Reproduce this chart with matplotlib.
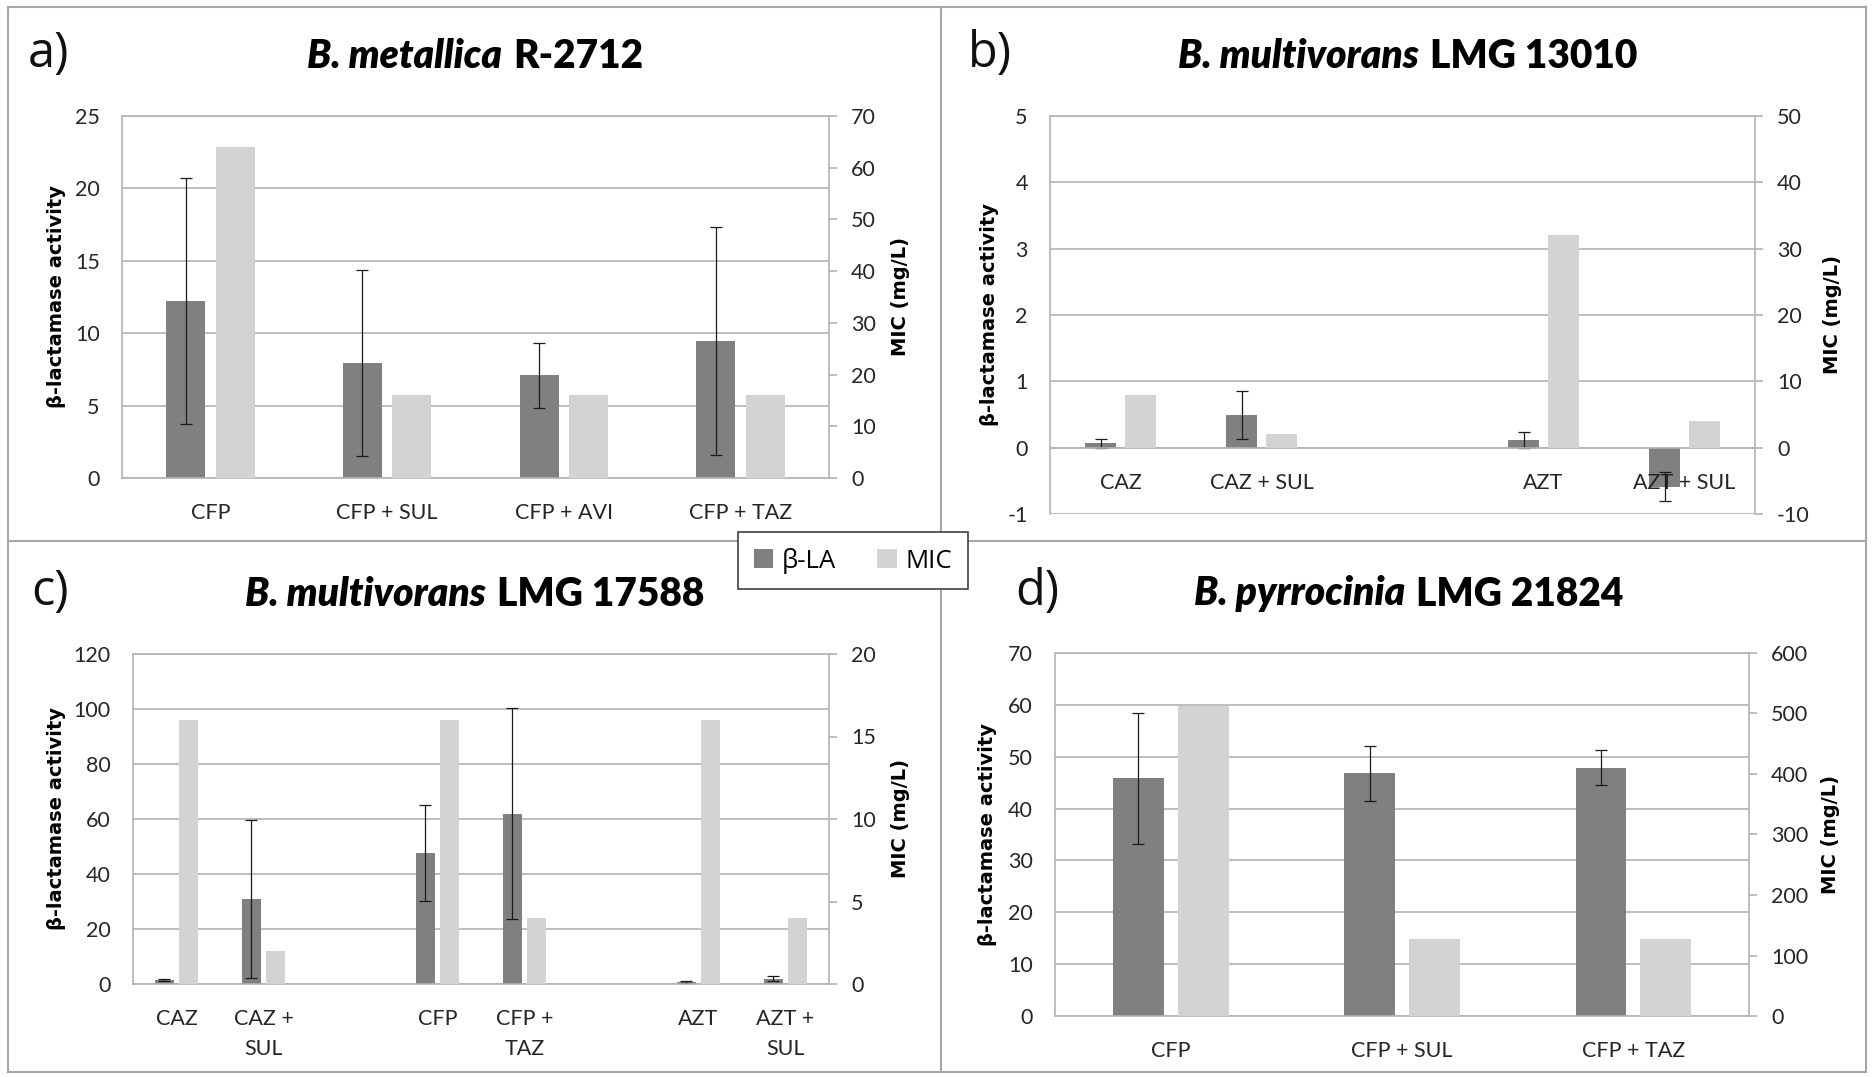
import numpy as np
import matplotlib
matplotlib.use('Agg')
import matplotlib.pyplot as plt
from matplotlib.patches import Patch
from matplotlib.lines import Line2D
from matplotlib.offsetbox import TextArea, HPacker, AnnotationBbox

plt.rcParams['axes.unicode_minus'] = False

# panel a) B. metallica R-2712
a_cats = ['CFP', 'CFP + SUL', 'CFP + AVI', 'CFP + TAZ']
a_bla = [12.2, 7.94, 7.09, 9.44]
a_err = [8.5, 6.42, 2.26, 7.88]
a_mic = [64, 16, 16, 16]

# panel b) B. multivorans LMG 13010
b_cats = ['CAZ', 'CAZ + SUL', '', 'AZT', 'AZT + SUL']
b_bla = [0.065, 0.49, np.nan, 0.12, -0.59]
b_err = [0.07, 0.36, np.nan, 0.12, 0.22]
b_mic = [8, 2, np.nan, 32, 4]

# panel c) B. multivorans LMG 17588
c_cats = ['CAZ', 'CAZ +\nSUL', '', 'CFP', 'CFP +\nTAZ', '', 'AZT', 'AZT +\nSUL']
c_bla = [1.5, 31.0, np.nan, 47.6, 62.0, np.nan, 0.8, 1.9]
c_err = [0.3, 28.7, np.nan, 17.5, 38.2, np.nan, 0.3, 0.9]
c_mic = [16, 2, np.nan, 16, 4, np.nan, 16, 4]

# panel d) B. pyrrocinia LMG 21824
d_cats = ['CFP', 'CFP + SUL', 'CFP + TAZ']
d_bla = [45.8, 46.8, 47.9]
d_err = [12.7, 5.3, 3.35]
d_mic = [512, 128, 128]

W, H = 1872, 1077
DARK = '#808080'
LIGHT = '#d3d3d3'
GRID = '#b3b3b3'
TXT = '#262626'
NARROW = ['Lato', 'DejaVu Sans']

fig = plt.figure(figsize=(W / 100, H / 100), dpi=100)


def px_axes(l, t, r, b):
    return fig.add_axes([l / W, 1 - b / H, (r - l) / W, (b - t) / H])


def panel(box, cats, bla, err, mic, lticks, rticks, lpad, rpad, zero_axis=False):
    ax = px_axes(*box)
    ax2 = ax.twinx()
    if zero_axis:
        ax.spines['bottom'].set_position(('data', 0))
    x = np.arange(len(cats))
    w = 0.22
    for y in lticks:
        ax.axhline(y, color=GRID, lw=1.2, zorder=0.5)
    ax.bar(x - 0.14, bla, w, color=DARK, zorder=1)
    ax.errorbar(x - 0.14, bla, yerr=err, fmt='none', ecolor='#1a1a1a',
                elinewidth=0.9, capsize=4, capthick=0.9, zorder=2)
    ax2.bar(x + 0.14, mic, w, color=LIGHT, zorder=1)

    ax.set_xlim(-0.5, len(cats) - 0.5)
    ax.set_ylim(lticks[0], lticks[-1])
    ax.set_yticks(lticks)
    ax2.set_ylim(rticks[0], rticks[-1])
    ax2.set_yticks(rticks)
    ax.set_xticks(x)
    ax.set_xticklabels(cats, family=NARROW, fontsize=15.5, color=TXT, linespacing=1.6)

    for s in ax.spines.values():
        s.set_color(GRID)
        s.set_linewidth(1.2)
    ax.spines['right'].set_visible(False)
    for k in ['left', 'top', 'bottom']:
        ax2.spines[k].set_visible(False)
    ax2.spines['right'].set_color(GRID)
    ax2.spines['right'].set_linewidth(1.2)

    ax.tick_params(axis='x', length=0, pad=18)
    ax.tick_params(axis='y', length=0, pad=16, labelsize=15.5, labelcolor=TXT)
    ax2.tick_params(axis='y', length=5.8, width=1.2, color=GRID, pad=10,
                    labelsize=15.5, labelcolor=TXT)
    for t in ax.get_yticklabels() + ax2.get_yticklabels():
        t.set_family(NARROW)

    wpx = box[2] - box[0]
    ax.set_ylabel('β-lactamase activity', fontsize=14, fontweight='bold',
                  family='DejaVu Sans')
    ax.yaxis.set_label_coords(lpad / wpx, 0.5)
    ax2.set_ylabel('MIC (mg/L)', fontsize=14, fontweight='bold', family='DejaVu Sans')
    ax2.yaxis.set_label_coords(1 + rpad / wpx, 0.5)
    return ax


def title(xc, yc, italic, rest, letter, lx, ly):
    t1 = TextArea(italic, textprops=dict(family=NARROW, fontsize=28,
                                         fontweight='heavy', style='italic'))
    t2 = TextArea(rest, textprops=dict(family=NARROW, fontsize=28, fontweight='heavy'))
    pack = HPacker(children=[t1, t2], pad=0, sep=8, align='baseline')
    ab = AnnotationBbox(pack, (xc / W, 1 - yc / H), xycoords='figure fraction',
                        box_alignment=(0.5, 0.5), frameon=False)
    fig.add_artist(ab)
    fig.text(lx / W, 1 - ly / H, letter, fontsize=35, family='Open Sans',
             ha='left', va='center', color='#111111')


panel((122, 116, 829, 478), a_cats, a_bla, a_err, a_mic,
      np.arange(0, 26, 5), np.arange(0, 71, 10), -56, 62)
panel((1050, 116, 1755, 514), b_cats, b_bla, b_err, b_mic,
      np.arange(-1, 6, 1), np.arange(-10, 51, 10), -51, 68, zero_axis=True)
panel((133, 654, 829, 984), c_cats, c_bla, c_err, c_mic,
      np.arange(0, 121, 20), np.arange(0, 21, 5), -67, 62)
panel((1055, 653, 1749, 1016), d_cats, d_bla, d_err, d_mic,
      np.arange(0, 71, 10), np.arange(0, 601, 100), -58, 72)

title(475, 57, 'B. metallica', 'R-2712', 'a)', 28, 54)
title(1408, 57, 'B. multivorans', 'LMG 13010', 'b)', 968, 54)
title(475, 594, 'B. multivorans', 'LMG 17588', 'c)', 31, 592)
title(1409, 594, 'B. pyrrocinia', 'LMG 21824', 'd)', 1015, 592)

# panel frames
frame = dict(color='#a6a6a6', lw=1.5, zorder=1)
for xs, ys in [([8, 1866], [7, 7]), ([8, 1866], [1072, 1072]),
               ([8, 8], [7, 1072]), ([1866, 1866], [7, 1072]),
               ([8, 1866], [541, 541]), ([941, 941], [7, 1072])]:
    fig.add_artist(Line2D([v / W for v in xs], [1 - v / H for v in ys], **frame))

leg = fig.legend(handles=[Patch(fc=DARK, label='β-LA'), Patch(fc=LIGHT, label='MIC')],
                 loc='center', bbox_to_anchor=(853 / W, 1 - 560.5 / H), ncol=2,
                 frameon=True, fancybox=False, framealpha=1, edgecolor='#404040',
                 prop={'family': 'Open Sans', 'size': 18.5}, handlelength=0.75,
                 handleheight=0.75, handletextpad=0.35, columnspacing=1.6,
                 borderpad=0.6, borderaxespad=0)
leg.get_frame().set_linewidth(1.2)
leg.set_zorder(10)

fig.savefig('out.png', dpi=100)
